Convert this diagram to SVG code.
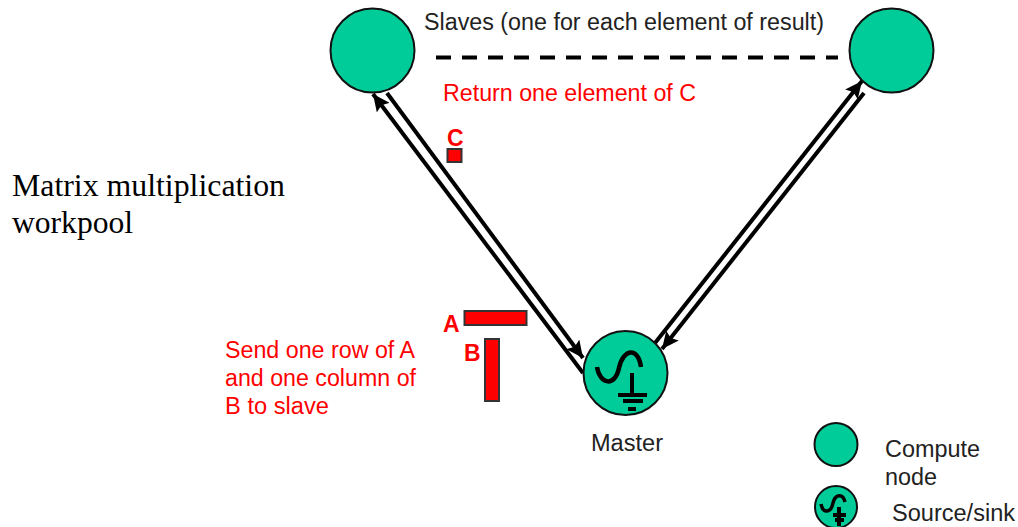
<svg xmlns="http://www.w3.org/2000/svg" width="1018" height="527" viewBox="0 0 1018 527">
<style>
.node{fill:#00cc99;stroke:#111;stroke-width:2}
.conn{stroke:#000;stroke-width:4;fill:none}
.sym{fill:none;stroke:#000;stroke-linecap:butt}
.block{fill:#f00;stroke:#333;stroke-width:2}
.lab{font-family:"Liberation Sans",Arial,sans-serif;font-size:23px;fill:#222}
.red{font-family:"Liberation Sans",Arial,sans-serif;font-size:23px;fill:#f00}
.redb{font-family:"Liberation Sans",Arial,sans-serif;font-size:23px;font-weight:bold;fill:#f00}
.title{font-family:"Liberation Serif","Times New Roman",serif;font-size:32px;fill:#000}
</style>
<defs>
<marker id="arrow" markerUnits="userSpaceOnUse" markerWidth="18" markerHeight="16" refX="17" refY="8" orient="auto"><path d="M0 0L17 8L0 16L3 8Z" fill="#000"/></marker>
</defs>
<rect width="1018" height="527" fill="#fff"/>
<g id="connectors">
<line class="conn" x1="583" y1="373" x2="373" y2="94" marker-end="url(#arrow)"/>
<line class="conn" x1="387" y1="93" x2="583" y2="358" marker-end="url(#arrow)"/>
<line class="conn" x1="655" y1="343" x2="862" y2="81" marker-end="url(#arrow)"/>
<line class="conn" x1="864" y1="93" x2="662" y2="349" marker-end="url(#arrow)"/>
<line x1="436" y1="57.500" x2="838" y2="57.500" stroke="#000" stroke-width="4" stroke-dasharray="15 11"/>
</g>
<g id="slave-left"><circle class="node" cx="372.500" cy="50.500" r="42"/></g>
<g id="slave-right"><circle class="node" cx="891.500" cy="50.500" r="42"/></g>
<g id="master">
<circle class="node" cx="625.500" cy="373" r="42"/>
<path class="sym" stroke-width="4.500" d="M597 367C600 385 615 387 619 368C623 349 638 346 641 367"/>
<path class="sym" stroke-width="4" d="M632 373V395M618 395H647M623 401H643M628 409H636"/>
</g>
<g id="legend-compute"><circle class="node" cx="836" cy="444.500" r="21.500"/></g>
<g id="legend-source">
<circle class="node" cx="836" cy="507" r="21"/>
<path class="sym" stroke-width="3.500" d="M821 504C823 514 831 513 833 503C835 494 843 493 845 502"/>
<path class="sym" stroke-width="4" d="M839 507V525M833 515H846M835 520H844M837 524H841"/>
</g>
<g id="labels">
<text class="lab" x="424" y="30" textLength="400" lengthAdjust="spacingAndGlyphs">Slaves (one for each element of result)</text>
<text class="red" x="443" y="101" textLength="253" lengthAdjust="spacingAndGlyphs">Return one element of C</text>
<text class="redb" x="447" y="146">C</text>
<rect class="block" x="447.500" y="149" width="14" height="13"/>
<rect class="block" x="464.500" y="311" width="62" height="14"/>
<rect class="block" x="485" y="339" width="14" height="62"/>
<text class="redb" x="443" y="332">A</text>
<text class="redb" x="464" y="361">B</text>
<text class="red" x="225" y="358" textLength="190" lengthAdjust="spacingAndGlyphs">Send one row of A</text>
<text class="red" x="225" y="386" textLength="191" lengthAdjust="spacingAndGlyphs">and one column of</text>
<text class="red" x="225" y="414" textLength="104" lengthAdjust="spacingAndGlyphs">B to slave</text>
<text class="lab" x="591" y="451" textLength="72" lengthAdjust="spacingAndGlyphs">Master</text>
<text class="lab" x="885" y="457" textLength="95" lengthAdjust="spacingAndGlyphs">Compute</text>
<text class="lab" x="885" y="485" textLength="52" lengthAdjust="spacingAndGlyphs">node</text>
<text class="lab" x="892" y="521" textLength="123" lengthAdjust="spacingAndGlyphs">Source/sink</text>
<text class="title" x="12" y="196" textLength="273" lengthAdjust="spacingAndGlyphs">Matrix multiplication</text>
<text class="title" x="12" y="233" textLength="121" lengthAdjust="spacingAndGlyphs">workpool</text>
</g>
</svg>
